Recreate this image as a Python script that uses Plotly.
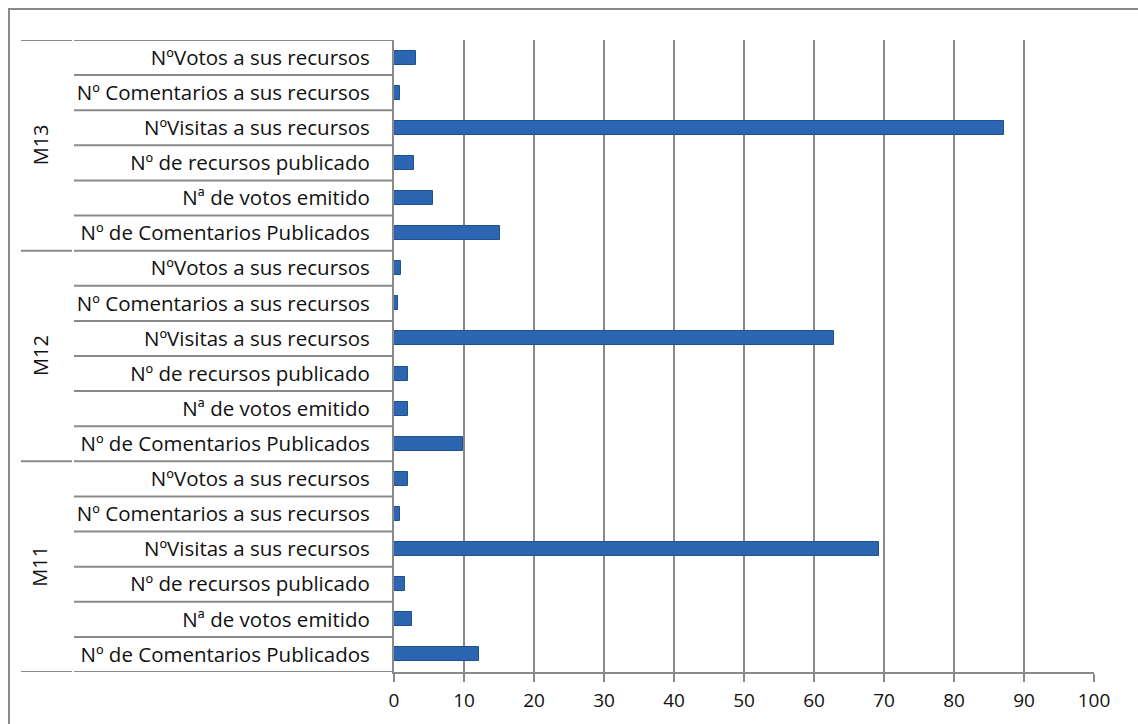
import plotly.graph_objects as go

groups = ["M11", "M12", "M13"]
metrics = [
    "Nº de Comentarios Publicados",
    "Nª de votos emitido",
    "Nº de recursos publicado",
    "NºVisitas a sus recursos",
    "Nº Comentarios a sus recursos",
    "NºVotos a sus recursos",
]
m11 = [12.2, 2.5, 1.6, 69.3, 0.9, 2.0]
m12 = [9.8, 2.0, 2.0, 62.9, 0.5, 1.0]
m13 = [15.1, 5.5, 2.8, 87.2, 0.9, 3.1]
x_ticks = [0, 10, 20, 30, 40, 50, 60, 70, 80, 90, 100]

values = m11 + m12 + m13
n_per = len(metrics)
n = n_per * len(groups)
positions = list(range(n))
labels = metrics * len(groups)

W, H = 1138, 724
L, R, T, B = 394, 44, 40, 52
pw = W - L - R
ph = H - T - B

def px_x(p):
    return (p - L) / pw

def px_y(p):
    return (H - B - p) / ph

GRAY = "#8a8a8a"
FONT = "Open Sans"

fig = go.Figure()
fig.add_trace(go.Bar(
    x=values, y=positions, orientation="h", width=0.4,
    marker=dict(color="#2C66B2", line=dict(color="#1F528F", width=1)),
    showlegend=False, hoverinfo="x",
))

shapes = []
for i in range(n + 1):
    yv = i - 0.5
    shapes.append(dict(type="line", xref="paper", yref="y",
                       x0=px_x(74), x1=0, y0=yv, y1=yv,
                       line=dict(color=GRAY, width=2)))
    if i % n_per == 0:
        shapes.append(dict(type="line", xref="paper", yref="y",
                           x0=px_x(21), x1=px_x(72), y0=yv, y1=yv,
                           line=dict(color=GRAY, width=2)))
shapes.append(dict(type="rect", xref="paper", yref="paper",
                   x0=px_x(9), x1=px_x(W + 20), y0=px_y(H + 20), y1=px_y(9),
                   line=dict(color=GRAY, width=2), fillcolor="rgba(0,0,0,0)",
                   layer="below"))

annotations = []
for gi, g in enumerate(groups):
    center = gi * n_per + (n_per - 1) / 2
    annotations.append(dict(xref="paper", yref="y", x=px_x(40), y=center,
                            xanchor="center", yanchor="middle",
                            text=g, textangle=-90, showarrow=False,
                            font=dict(family=FONT, size=20, color="#111")))

fig.update_layout(
    width=W, height=H,
    margin=dict(l=L, r=R, t=T, b=B, autoexpand=False),
    paper_bgcolor="white", plot_bgcolor="white",
    shapes=shapes, annotations=annotations,
    bargap=0,
    font=dict(family=FONT, size=19, color="#111"),
)
fig.update_xaxes(range=[0, 100], tickvals=x_ticks, showgrid=True,
                 gridcolor=GRAY, gridwidth=2, zeroline=False,
                 showline=True, linecolor=GRAY, linewidth=2,
                 ticks="outside", ticklen=8, tickcolor=GRAY, tickwidth=2,
                 ticklabelstandoff=2,
                 tickfont=dict(family=FONT, size=19, color="#111"))
fig.update_yaxes(range=[-0.5, n - 0.5], tickvals=positions, ticktext=labels,
                 showgrid=False, zeroline=False, showline=True,
                 linecolor=GRAY, linewidth=2, ticks="",
                 ticklabelstandoff=18,
                 tickfont=dict(family=FONT, size=20.5, color="#111"))

fig.write_html("out.html")
